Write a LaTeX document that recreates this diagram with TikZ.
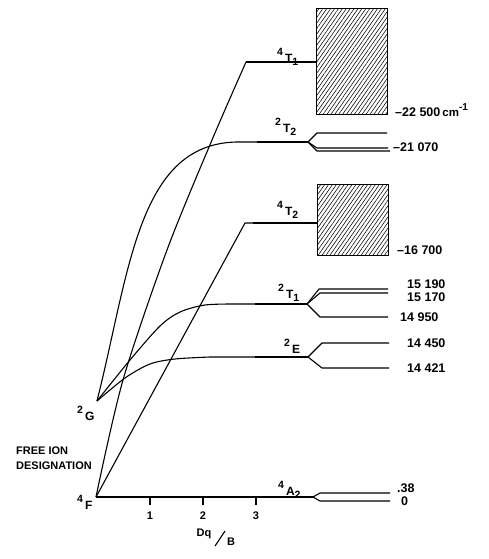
\documentclass[tikz,border=0pt]{standalone}
\usepackage{fontspec}
\setmainfont{Liberation Sans}
\usetikzlibrary{patterns.meta}
\newcommand\lvlterm[3]{\raisebox{7pt}{\fontsize{10.5}{11}\selectfont #1}\hspace{2pt}#2\raisebox{-3pt}{\fontsize{10.5}{11}\selectfont #3}}
\begin{document}
\begin{tikzpicture}[x=1pt,y=-1pt,
  thinln/.style={line width=1.1pt, line join=round},
  thickln/.style={line width=2.8pt},
  hatchbox/.style={draw, line width=1.1pt, pattern={Lines[angle=55,distance=3.2pt,line width=0.55pt]}},
  num/.style={anchor=west, inner sep=0pt, font=\bfseries\fontsize{12.5}{13}\selectfont},
  lab/.style={anchor=base west, inner sep=0pt, font=\bfseries\fontsize{12}{12}\selectfont},
  txt/.style={anchor=west, inner sep=0pt, font=\bfseries\fontsize{11}{12}\selectfont}]
\useasboundingbox (0,0) rectangle (488,559);

% origins
\coordinate (F) at (96,497);
\coordinate (G) at (97,401);

% axis 4A2
\coordinate (A2k) at (313,497);
\coordinate (A2u) at (320,493);
\coordinate (A2l) at (320,501);
\coordinate (A2ue) at (390,493);
\coordinate (A2le) at (390,501);
\draw[thinln] (F) -- (A2k);
\draw[thickln] (256,497) -- (310,497);
\draw[thinln] (A2k) -- (A2u) -- (A2ue);
\draw[thinln] (A2k) -- (A2l) -- (A2le);
\foreach \x/\l in {150/1,203/2,256/3}{
  \draw[thinln] (\x,497) -- (\x,505);
  \node[inner sep=0pt, font=\bfseries\fontsize{11}{12}\selectfont] (tick\l) at (\x,516) {\l};
}

% 4T1
\coordinate (T1c) at (246,62);
\node[hatchbox, minimum width=71pt, minimum height=106pt, inner sep=0pt, anchor=north west] (boxA) at (316,8) {};
\draw[thinln] plot[smooth, tension=0.5] coordinates {(96,497) (123,380) (167,250) (212,140) (246,62)};
\draw[thinln] (T1c) -- (boxA.west |- T1c);
\draw[thickln] (260,62) -- (boxA.west |- T1c);

% 4T2
\coordinate (T2c) at (245,223);
\node[hatchbox, minimum width=71pt, minimum height=71pt, inner sep=0pt, anchor=north west] (boxB) at (317,184) {};
\draw[thinln] (F) -- (T2c) -- (boxB.west |- T2c);
\draw[thickln] (253,223) -- (boxB.west |- T2c);

% 2T2
\coordinate (S2k) at (308,142);
\draw[thinln] (G) .. controls (130,270) and (138,141) .. (240,142) -- (S2k);
\draw[thickln] (257,142) -- (S2k);
\draw[thinln] (S2k) -- (317,133) -- (387,133);
\draw[thinln] (S2k) -- (317,148) -- (388,148);
\draw[thinln] (S2k) -- (317,151) -- (390,151);

% 2T1
\coordinate (S1k) at (307,304);
\draw[thinln] plot[smooth, tension=0.5] coordinates {(97,401) (130,360) (160,326) (180,312) (205,305) (235,304)} -- (S1k);
\draw[thickln] (255,304) -- (S1k);
\draw[thinln] (S1k) -- (319,289) -- (388,289);
\draw[thinln] (S1k) -- (320,293) -- (388,293);
\draw[thinln] (S1k) -- (320,317) -- (388,317);

% 2E
\coordinate (Ek) at (308,357);
\draw[thinln] plot[smooth, tension=0.5] coordinates {(97,401) (125,378) (150,364) (175,359) (210,357)} -- (Ek);
\draw[thickln] (255,357) -- (Ek);
\draw[thinln] (Ek) -- (322,343) -- (389,343);
\draw[thinln] (Ek) -- (322,368) -- (389,368);

% term labels
\node[lab] (l4T1) at (277,63) {\lvlterm{4}{T}{1}};
\node[lab] (l2T2) at (275,132) {\lvlterm{2}{T}{2}};
\node[lab] (l4T2) at (277,215) {\lvlterm{4}{T}{2}};
\node[lab] (l2T1) at (278,298) {\lvlterm{2}{T}{1}};
\node[lab] (l2E) at (284,353) {\lvlterm{2}{E}{}};
\node[lab] (l4A2) at (278,495) {\lvlterm{4}{A}{2}};
\node[lab] (l2G) at (77,420) {\lvlterm{2}{G}{}};
\node[lab] (l4F) at (77,509) {\lvlterm{4}{F}{}};

% energies
\node[num] (e1) at (395,110) {--22 500\,{\fontsize{11.5}{12}\selectfont cm}\raisebox{6pt}{\fontsize{10}{10}\selectfont -1}};
\node[num] (e2) at (393,147) {--21 070};
\node[num] (e3) at (397,250) {--16 700};
\node[num] (e4) at (407,284) {15 190};
\node[num] (e5) at (407,297) {15 170};
\node[num] (e6) at (400,317) {14 950};
\node[num] (e7) at (407,343) {14 450};
\node[num] (e8) at (407,368) {14 421};
\node[num] (e9) at (397,488) {.38};
\node[num] (e10) at (401,501) {0};

% free ion text
\node[txt] (fi1) at (16,451) {FREE ION};
\node[txt] (fi2) at (16,466) {DESIGNATION};

% axis label
\node[inner sep=0pt, font=\bfseries\fontsize{11}{12}\selectfont] (dq) at (204,534) {Dq};
\node[inner sep=0pt, font=\bfseries\fontsize{11}{12}\selectfont] (bb) at (231,542) {B};
\coordinate (s1) at (215,546);
\coordinate (s2) at (225,531);
\draw[thinln] (s1) -- (s2);
\end{tikzpicture}
\end{document}
